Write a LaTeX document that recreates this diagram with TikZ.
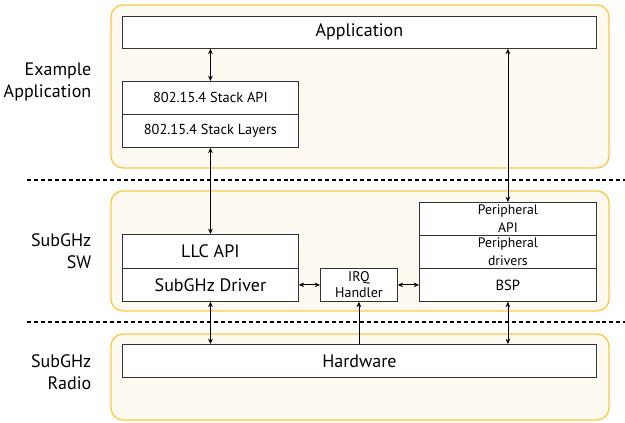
\documentclass[tikz,border=0pt]{standalone}
\usepackage{fontspec}
\setmainfont{PT Sans}
\usepackage{tikz}
\usetikzlibrary{arrows.meta, positioning}

\definecolor{panelfill}{HTML}{FEF9F1}
\definecolor{paneledge}{HTML}{FBC947}

\tikzset{
    panel/.style={draw=paneledge, fill=panelfill, line width=1pt, rounded corners=9pt},
    layerbox/.style={draw=black!80, fill=white, line width=0.6pt, inner sep=0pt, anchor=north west},
    sidelabel/.style={align=right, anchor=east, font=\fontsize{13.5}{16.5}\selectfont},
    biarrow/.style={{Stealth[length=4pt,width=3.5pt]}-{Stealth[length=4pt,width=3.5pt]}, line width=0.6pt},
    uparrow/.style={-{Stealth[length=4pt,width=3.5pt]}, line width=0.6pt},
    divider/.style={dashed, dash pattern=on 3pt off 2.2pt, line width=1.4pt}
}

\begin{document}
\begin{tikzpicture}[x=0.75pt, y=-0.75pt]
    \useasboundingbox (0,0) rectangle (625,423);
    % panels
    \draw[panel] (111,5) rectangle (609,168);
    \draw[panel] (111,191) rectangle (609,311);
    \draw[panel] (111,334) rectangle (609,420);
    % separators
    \draw[divider] (27,180) -- (625,180);
    \draw[divider] (27,322) -- (625,322);
    % side labels
    \node[sidelabel] (lblapp) at (96,82) {Example\\Application};
    \node[sidelabel] (lblsw) at (96,251) {SubGHz\\SW};
    \node[sidelabel] (lblradio) at (96,372) {SubGHz\\Radio};
    % application layer
    \node[layerbox, minimum width=355.5pt, minimum height=24pt, font=\fontsize{13.5}{16}\selectfont] (app) at (122,16) {Application};
    \node[layerbox, minimum width=132pt, minimum height=24.75pt, font=\fontsize{10.8}{13}\selectfont] (stackapi) at (122,81) {802.15.4 Stack API};
    \node[layerbox, minimum width=132pt, minimum height=24.75pt, font=\fontsize{10.8}{13}\selectfont] (stacklayers) at (122,114) {802.15.4 Stack Layers};
    % subghz software
    \node[layerbox, minimum width=132pt, minimum height=25.5pt, font=\fontsize{13.5}{16}\selectfont] (llcapi) at (122,234) {LLC API};
    \node[layerbox, minimum width=132pt, minimum height=24.75pt, font=\fontsize{13.5}{16}\selectfont] (driver) at (122,268) {SubGHz Driver};
    \node[layerbox, minimum width=57.75pt, minimum height=24.75pt, align=center, font=\fontsize{10.5}{12}\selectfont] (irq) at (320,268) {IRQ\\Handler};
    \node[layerbox, minimum width=132.75pt, minimum height=24.75pt, align=center, font=\fontsize{10.3}{13.5}\selectfont] (periphapi) at (419,202) {Peripheral\\API};
    \node[layerbox, minimum width=132.75pt, minimum height=24.75pt, align=center, font=\fontsize{10.3}{13.5}\selectfont] (periphdrv) at (419,235) {Peripheral\\drivers};
    \node[layerbox, minimum width=132.75pt, minimum height=24.75pt, font=\fontsize{11}{13}\selectfont] (bsp) at (419,268) {BSP};
    % radio
    \node[layerbox, minimum width=355.5pt, minimum height=24.75pt, font=\fontsize{13.5}{16}\selectfont] (hw) at (122,344) {Hardware};
    % connections
    \draw[biarrow] (stackapi.north) -- (stackapi.north |- app.south);
    \draw[biarrow] (stacklayers.south) -- (llcapi.north);
    \draw[biarrow] (periphapi.north) -- (periphapi.north |- app.south);
    \draw[biarrow] (driver.east) -- (irq.west);
    \draw[biarrow] (irq.east) -- (bsp.west);
    \draw[biarrow] (driver.south) -- (driver.south |- hw.north);
    \draw[biarrow] (bsp.south) -- (bsp.south |- hw.north);
    \draw[uparrow] (irq.south |- hw.north) -- (irq.south);
\end{tikzpicture}
\end{document}
